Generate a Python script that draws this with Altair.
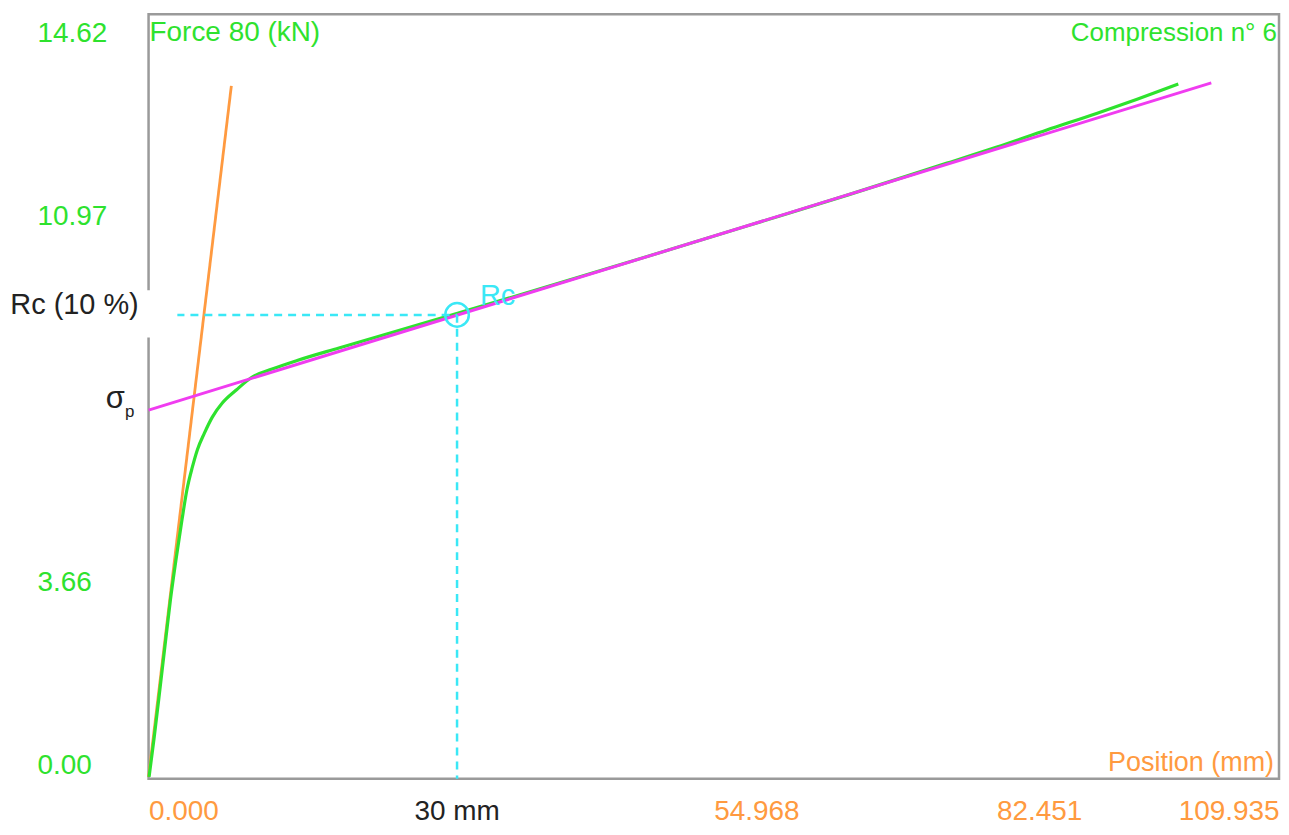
import altair as alt
import pandas as pd

# ---------------- data ----------------
x_ticks = [0.0, 54.968, 82.451, 109.935]
y_ticks = [0.0, 3.66, 10.97, 14.62]
x_domain = [0.0, 109.935]
y_domain = [-0.26, 15.0]

# Force / position curve (green)
green_x = [0.05, 0.53, 0.99, 1.56, 2.13, 2.67, 3.25, 3.73, 4.27, 4.75,
           5.43, 6.20, 7.17, 8.53, 10.08, 12.02, 14.45, 18.52, 24.33, 30.05,
           38.88, 48.57, 58.26, 67.96, 77.65, 82.50, 87.35, 92.19, 96.07, 100.14]
green_y = [-0.22, 0.54, 1.33, 2.33, 3.32, 4.12, 4.91, 5.51, 5.97, 6.31,
           6.64, 6.96, 7.24, 7.50, 7.76, 7.92, 8.09, 8.34, 8.69, 9.03,
           9.57, 10.17, 10.78, 11.39, 12.03, 12.35, 12.69, 13.02, 13.30, 13.61]

# Initial slope line (orange)
orange_x = [0.0, 8.05]
orange_y = [-0.22, 13.57]

# Second slope line (magenta)
magenta_x = [0.0, 103.35]
magenta_y = [7.10, 13.63]

# Rc point (10 % strain)
rc_x = 30.0
rc_y = 9.0

# label box behind "Rc (10 %)" (data units)
rc_box = {"x": -14.5, "x2": 2.8, "y": 8.55, "y2": 9.49}
rc_label_pos = {"x": -7.2, "y": 9.19}
sigma_pos = {"x": -2.3, "y": 7.32, "y_sub": 7.06}

GREEN = "#2ee22e"
ORANGE = "#ff9a40"
MAGENTA = "#f03cf0"
CYAN = "#3ae8f6"
FONT = "Liberation Sans, Arial, sans-serif"

xs = alt.Scale(domain=x_domain, nice=False, zero=False)
ys = alt.Scale(domain=y_domain, nice=False, zero=False)

x_axis = alt.Axis(
    values=x_ticks, format=".3f", title=None, grid=False, ticks=False, domain=False,
    labelAlign={"condition": {"test": "datum.value > 100", "value": "right"}, "value": "left"},
    labelFlush=False, labelBaseline="alphabetic", labelPadding=41,
    labelColor=ORANGE, labelFont=FONT, labelFontSize=28,
)
y_axis = alt.Axis(
    values=y_ticks, format=".2f", title=None, grid=False, ticks=False, domain=False,
    labelAlign="left", labelBaseline="middle", labelPadding=112,
    labelColor=GREEN, labelFont=FONT, labelFontSize=28,
)

green_df = pd.DataFrame({"x": green_x, "y": green_y})
orange_df = pd.DataFrame({"x": orange_x, "y": orange_y})
magenta_df = pd.DataFrame({"x": magenta_x, "y": magenta_y})
rc_df = pd.DataFrame({"x": [rc_x], "y": [rc_y], "x0": [x_domain[0]], "y0": [y_domain[0]]})

base_x = alt.X("x:Q", scale=xs, axis=x_axis)
base_y = alt.Y("y:Q", scale=ys, axis=y_axis)

orange = alt.Chart(orange_df).mark_line(color=ORANGE, strokeWidth=2.8).encode(x=base_x, y=base_y)
green = alt.Chart(green_df).mark_line(color=GREEN, strokeWidth=3.2, interpolate="monotone").encode(
    x=alt.X("x:Q", scale=xs), y=alt.Y("y:Q", scale=ys))
magenta = alt.Chart(magenta_df).mark_line(color=MAGENTA, strokeWidth=3).encode(
    x=alt.X("x:Q", scale=xs), y=alt.Y("y:Q", scale=ys))

h_rule = alt.Chart(rc_df).mark_rule(color=CYAN, strokeWidth=2.5, strokeDash=[8, 6]).encode(
    x=alt.X("x0:Q", scale=xs), x2="x:Q", y=alt.Y("y:Q", scale=ys))
v_rule = alt.Chart(rc_df).mark_rule(color=CYAN, strokeWidth=2.5, strokeDash=[8, 6]).encode(
    x=alt.X("x:Q", scale=xs), y=alt.Y("y:Q", scale=ys), y2="y0:Q")
circle = alt.Chart(rc_df).mark_point(shape="circle", filled=False, color=CYAN, size=560,
                                     strokeWidth=2.5, opacity=1).encode(
    x=alt.X("x:Q", scale=xs), y=alt.Y("y:Q", scale=ys))
rc_text = alt.Chart(rc_df).mark_text(text="Rc", color=CYAN, font=FONT, fontSize=29,
                                     align="left", baseline="middle", dx=23, dy=-19).encode(
    x=alt.X("x:Q", scale=xs), y=alt.Y("y:Q", scale=ys))

box_df = pd.DataFrame([rc_box])
white_box = alt.Chart(box_df).mark_rect(color="white").encode(
    x=alt.X("x:Q", scale=xs), x2="x2:Q", y=alt.Y("y:Q", scale=ys), y2="y2:Q")

rc_lab_df = pd.DataFrame([{**rc_label_pos, "t": "Rc (10 %)"}])
rc_label = alt.Chart(rc_lab_df).mark_text(color="#222222", font=FONT, fontSize=29,
                                          align="center", baseline="middle").encode(
    x=alt.X("x:Q", scale=xs), y=alt.Y("y:Q", scale=ys), text="t:N")

sig_df = pd.DataFrame([{"x": sigma_pos["x"], "y": sigma_pos["y"], "ys": sigma_pos["y_sub"]}])
sigma = alt.Chart(sig_df).mark_text(text="σ", color="#222222", font=FONT, fontSize=31,
                                    align="right", baseline="middle").encode(
    x=alt.X("x:Q", scale=xs), y=alt.Y("y:Q", scale=ys))
sigma_sub = alt.Chart(sig_df).mark_text(text="p", color="#222222", font=FONT, fontSize=17,
                                        align="left", baseline="middle").encode(
    x=alt.X("x:Q", scale=xs), y=alt.Y("ys:Q", scale=ys))

mm_df = pd.DataFrame({"x": [rc_x], "t": ["30 mm"]})
mm_label = alt.Chart(mm_df).mark_text(color="#222222", font=FONT, fontSize=28,
                                      align="center", baseline="alphabetic").encode(
    x=alt.X("x:Q", scale=xs), y=alt.value(808), text="t:N")

titles_df = pd.DataFrame({"t": ["Force 80 (kN)", "Compression n° 6", "Position (mm)"]})
force_t = alt.Chart(titles_df.iloc[[0]]).mark_text(
    color=GREEN, font=FONT, fontSize=28, align="left", baseline="middle").encode(
    x=alt.value(1), y=alt.value(19), text="t:N")
comp_t = alt.Chart(titles_df.iloc[[1]]).mark_text(
    color=GREEN, font=FONT, fontSize=26, align="right", baseline="middle").encode(
    x=alt.value(1132), y=alt.value(19), text="t:N")
pos_t = alt.Chart(titles_df.iloc[[2]]).mark_text(
    color=ORANGE, font=FONT, fontSize=27, align="right", baseline="alphabetic").encode(
    x=alt.value(1129), y=alt.value(759), text="t:N")

chart = alt.layer(
    orange, green, magenta, h_rule, v_rule, circle, rc_text,
    white_box, rc_label, sigma, sigma_sub, mm_label, force_t, comp_t, pos_t,
).properties(
    width=1134, height=767,
    padding={"left": 141, "top": 5, "right": 2, "bottom": 47},
    autosize=alt.AutoSizeParams(type="none"),
    background="white",
).configure_view(stroke="#9a9a9a", strokeWidth=2.5)

chart.save("out.html", embed_options={"renderer": "svg", "actions": False})
